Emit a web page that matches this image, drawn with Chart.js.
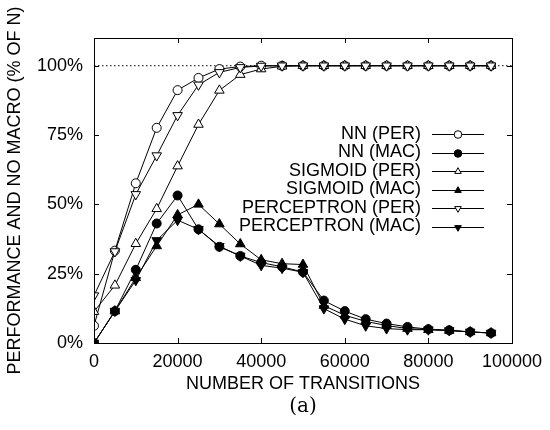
<!DOCTYPE html>
<html lang="en">
<head>
<meta charset="UTF-8">
<title>Performance and no macro</title>
<script src="https://cdn.jsdelivr.net/npm/chart.js@4"></script>
<style>
  html, body { margin: 0; padding: 0; background: #fff; }
  #wrap { width: 550px; height: 430px; position: relative; }
</style>
</head>
<body>
<div id="wrap"><canvas id="chart"></canvas></div>
<script>
// number of transitions (x)
const transitions = [0, 5000, 10000, 15000, 20000, 25000, 30000, 35000, 40000, 45000,
                     50000, 55000, 60000, 65000, 70000, 75000, 80000, 85000, 90000, 95000];

// % of N
const nnPer         = [6.2, 33.3, 57.6, 77.6, 91.2, 95.6, 98.8, 99.7, 100, 100, 100, 100, 100, 100, 100, 100, 100, 100, 100, 100];
const nnMac         = [0, 11.5, 26.4, 43.1, 53.2, 41.0, 34.7, 31.4, 29.0, 27.5, 25.6, 15.3, 11.5, 8.6, 7.0, 5.8, 5.0, 4.6, 4.0, 3.6];
const sigmoidPer    = [11.3, 20.8, 35.8, 48.4, 63.8, 78.8, 91.1, 96.8, 98.8, 99.8, 100, 100, 100, 100, 100, 100, 100, 100, 100, 100];
const sigmoidMac    = [0, 11.5, 23.5, 35.0, 46.2, 50.0, 42.9, 35.7, 30.0, 28.6, 28.3, 13.5, 10.0, 7.8, 6.3, 5.2, 4.8, 4.5, 4.0, 3.6];
const perceptronPer = [17.1, 33.0, 53.6, 67.6, 82.1, 93.1, 97.6, 99.4, 99.9, 100, 100, 100, 100, 100, 100, 100, 100, 100, 100, 100];
const perceptronMac = [0, 11.5, 22.6, 37.0, 44.3, 41.0, 34.9, 31.4, 28.0, 27.0, 25.5, 12.4, 8.6, 6.2, 5.2, 4.8, 4.8, 4.5, 4.0, 3.6];

const seriesLabels = ['NN (PER)', 'NN (MAC)', 'SIGMOID (PER)', 'SIGMOID (MAC)', 'PERCEPTRON (PER)', 'PERCEPTRON (MAC)'];
const seriesValues = [nnPer, nnMac, sigmoidPer, sigmoidMac, perceptronPer, perceptronMac];

const xTicks = [0, 20000, 40000, 60000, 80000, 100000];
const yTicks = [0, 25, 50, 75, 100];
const fullLevel = 100;

const FONT = '"Liberation Sans", Arial, Helvetica, sans-serif';

// marker style per series: [pointStyle, rotation, filled, radius]
const markers = [
  ['circle', 0, false, 4.5],
  ['circle', 0, true, 4.5],
  ['triangle', 0, false, 5.5],
  ['triangle', 0, true, 5.5],
  ['triangle', 180, false, 5.5],
  ['triangle', 180, true, 5.5]
];

const datasets = seriesValues.map((vals, i) => ({
  label: seriesLabels[i],
  data: transitions.map((t, j) => ({ x: t, y: vals[j] })),
  borderColor: '#000',
  borderWidth: 1,
  pointStyle: markers[i][0],
  rotation: markers[i][1],
  pointRadius: markers[i][3],
  pointBorderWidth: 1,
  pointBorderColor: '#000',
  pointBackgroundColor: markers[i][2] ? '#000' : '#fff',
  tension: 0,
  order: 6 - i
}));

// dotted 100% reference line
datasets.push({
  label: 'ref',
  data: [{ x: 0, y: fullLevel }, { x: 100000, y: fullLevel }],
  borderColor: '#000',
  borderWidth: 1,
  borderDash: [1.5, 2.5],
  pointRadius: 0,
  order: 10
});

function drawMarker(ctx, style, rot, filled, r, x, y) {
  ctx.save();
  ctx.translate(x, y);
  ctx.rotate(rot * Math.PI / 180);
  ctx.beginPath();
  if (style === 'circle') {
    ctx.arc(0, 0, r, 0, Math.PI * 2);
  } else {
    const w = r * Math.sqrt(3) / 2;
    ctx.moveTo(0, -r);
    ctx.lineTo(w, r / 2);
    ctx.lineTo(-w, r / 2);
    ctx.closePath();
  }
  ctx.fillStyle = filled ? '#000' : '#fff';
  ctx.fill();
  ctx.lineWidth = 1;
  ctx.strokeStyle = '#000';
  ctx.stroke();
  ctx.restore();
}

const framePlugin = {
  id: 'frame',
  afterDraw(chart) {
    const ctx = chart.ctx;
    const a = chart.chartArea;
    const xs = chart.scales.x, ys = chart.scales.y;
    const tl = 5;
    ctx.save();
    ctx.strokeStyle = '#000';
    ctx.lineWidth = 1;
    ctx.strokeRect(Math.round(a.left) + 0.5, Math.round(a.top) + 0.5,
                   Math.round(a.right - a.left), Math.round(a.bottom - a.top));
    ctx.beginPath();
    xTicks.forEach(v => {
      const px = Math.round(xs.getPixelForValue(v)) + 0.5;
      ctx.moveTo(px, a.bottom); ctx.lineTo(px, a.bottom - tl);
      ctx.moveTo(px, a.top); ctx.lineTo(px, a.top + tl);
    });
    yTicks.forEach(v => {
      const py = Math.round(ys.getPixelForValue(v)) + 0.5;
      ctx.moveTo(a.left, py); ctx.lineTo(a.left + tl, py);
      ctx.moveTo(a.right, py); ctx.lineTo(a.right - tl, py);
    });
    ctx.stroke();

    // legend, text right aligned, sample to its right
    ctx.font = '18px ' + FONT;
    ctx.fillStyle = '#000';
    ctx.textAlign = 'right';
    ctx.textBaseline = 'middle';
    const textRight = 421, lineL = 432, lineR = 484, markX = 458;
    seriesLabels.forEach((lab, i) => {
      const y = 134 + i * 18.5;
      ctx.fillText(lab, textRight, y);
      ctx.beginPath();
      ctx.moveTo(lineL, Math.round(y) + 0.5);
      ctx.lineTo(lineR, Math.round(y) + 0.5);
      ctx.stroke();
      drawMarker(ctx, markers[i][0], markers[i][1], markers[i][2], 3.8, markX, Math.round(y) + 0.5);
    });

    // x axis title
    ctx.textAlign = 'center';
    ctx.fillText('NUMBER OF TRANSITIONS', (a.left + a.right) / 2, 384);

    // sub-figure caption
    ctx.font = '20px "DejaVu Serif", "Liberation Serif", serif';
    ctx.fillText('(a)', (a.left + a.right) / 2, 407);
    ctx.restore();
  }
};

new Chart(document.getElementById('chart'), {
  type: 'line',
  data: { datasets },
  options: {
    responsive: true,
    maintainAspectRatio: false,
    animation: false,
    layout: { padding: { left: 0, top: 38, right: 33, bottom: 27 } },
    plugins: {
      legend: { display: false },
      tooltip: { enabled: false }
    },
    scales: {
      x: {
        type: 'linear',
        min: 0,
        max: 100000,
        afterBuildTicks: s => { s.ticks = xTicks.map(v => ({ value: v })); },
        afterFit: s => { s.height = 60; },
        grid: { display: false, drawTicks: false },
        border: { display: false },
        ticks: {
          padding: 8,
          color: '#000',
          font: { family: FONT, size: 18 },
          maxRotation: 0,
          callback: v => String(v)
        }
      },
      y: {
        type: 'linear',
        min: 0,
        max: 110,
        afterBuildTicks: s => { s.ticks = yTicks.map(v => ({ value: v })); },
        afterFit: s => { s.width = 94; },
        grid: { display: false, drawTicks: false },
        border: { display: false },
        ticks: {
          padding: 11,
          color: '#000',
          font: { family: FONT, size: 18 },
          callback: v => v + '%'
        },
        title: {
          display: true,
          text: 'PERFORMANCE AND NO MACRO (% OF N)',
          color: '#000',
          font: { family: FONT, size: 18 },
          padding: { top: 4, bottom: 0 }
        }
      }
    }
  },
  plugins: [framePlugin]
});
</script>
</body>
</html>
